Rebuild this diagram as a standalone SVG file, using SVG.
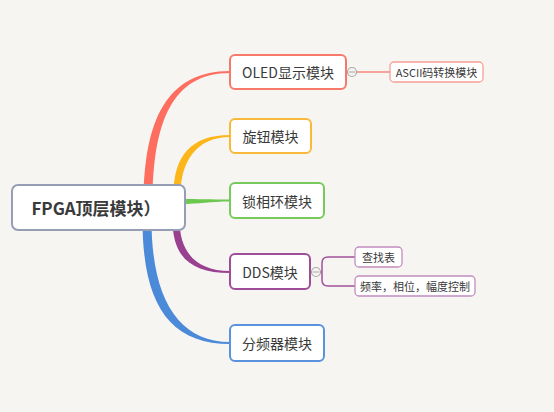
<svg xmlns="http://www.w3.org/2000/svg" width="554" height="412" viewBox="0 0 554 412">
<style>
.t{font-family:"Noto Sans CJK SC","Noto Sans",sans-serif;fill:#3a3a3a;text-anchor:middle;dominant-baseline:central}
.n{fill:#ffffff;stroke-width:2}
.s{fill:#ffffff;stroke-width:1.3}
.c{fill:#f4f3f0;stroke:#a9a9a9;stroke-width:1.2}
</style>
<rect width="554" height="412" fill="#f6f5f2"/>
<g id="connectors">
<path d="M143.5,205 C143.5,118 168,71 230,71 L230,73 C172,73 152.5,122 152.5,205 Z" fill="#fd6e5e"/>
<path d="M173.5,195 C173.5,155 192,135 230,135 L230,137 C196,137 180.5,162 180.5,195 Z" fill="#fdb61a"/>
<path d="M180,199 C200,199 210,199.5 230,199.5 L230,201.5 C210,201.5 200,204 180,204 Z" fill="#6cc84e"/>
<path d="M172.5,220 C172.5,258 192,273 230,273 L230,271 C196,271 179.5,252 179.5,220 Z" fill="#99418f"/>
<path d="M142.5,220 C142.5,305 170,344 230,344 L230,342 C178,342 151.5,298 151.5,220 Z" fill="#4b89d9"/>
<line x1="356" y1="72" x2="390" y2="72" stroke="#f6897b" stroke-width="1.5"/>
<circle class="c" cx="352" cy="72" r="4.5"/>
<line x1="349" y1="72" x2="355" y2="72" stroke="#a9a9a9" stroke-width="1"/>
<path d="M320,272 H322 M355,257 H328 Q322,257 322,263 V280 Q322,286 328,286 H355" fill="none" stroke="#a1519b" stroke-width="1.5"/>
<circle class="c" cx="316" cy="272" r="4.5"/>
<line x1="313" y1="272" x2="319" y2="272" stroke="#a9a9a9" stroke-width="1"/>
</g>
<g id="root">
<rect x="12" y="185" width="173" height="45" rx="6" fill="#ffffff" stroke="#959eb4" stroke-width="2"/>
<text class="t" x="96" y="207.5" font-size="17" font-weight="600">FPGA顶层模块）</text>
</g>
<g id="oled">
<rect class="n" x="230" y="55" width="116" height="34" rx="5" stroke="#f6796b"/>
<text class="t" x="288" y="72" font-size="14">OLED显示模块</text>
</g>
<g id="ascii">
<rect class="s" x="390" y="62" width="93" height="20" rx="4" stroke="#f5a094"/>
<text class="t" x="436.5" y="72" font-size="11">ASCII码转换模块</text>
</g>
<g id="knob">
<rect class="n" x="230" y="119" width="81" height="34" rx="5" stroke="#f9b93a"/>
<text class="t" x="270.5" y="136" font-size="14">旋钮模块</text>
</g>
<g id="pll">
<rect class="n" x="230" y="183" width="94" height="35" rx="5" stroke="#78ca5c"/>
<text class="t" x="277" y="200.5" font-size="14">锁相环模块</text>
</g>
<g id="dds">
<rect class="n" x="230" y="254" width="80" height="35" rx="5" stroke="#9e4e98"/>
<text class="t" x="270" y="271.5" font-size="14">DDS模块</text>
</g>
<g id="lut">
<rect class="s" x="355" y="247" width="47" height="20" rx="4" stroke="#c48dbe"/>
<text class="t" x="378.5" y="257" font-size="11">查找表</text>
</g>
<g id="ctrl">
<rect class="s" x="355" y="276" width="120" height="20" rx="4" stroke="#c48dbe"/>
<text class="t" x="415" y="286" font-size="11">频率，相位，幅度控制</text>
</g>
<g id="divider">
<rect class="n" x="230" y="325" width="94" height="36" rx="5" stroke="#5a92de"/>
<text class="t" x="277" y="343" font-size="14">分频器模块</text>
</g>
</svg>
